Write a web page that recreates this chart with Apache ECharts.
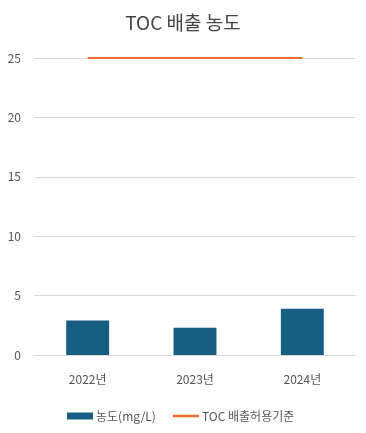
<!DOCTYPE html>
<html><head><meta charset="utf-8">
<script src="https://cdn.jsdelivr.net/npm/echarts@6/dist/echarts.min.js"></script>
<style>html,body{margin:0;padding:0;background:#fff}#c{width:366px;height:433px}</style>
</head><body><div id="c"></div>
<script>
const categories = ['2022년', '2023년', '2024년'];
const concentration = [2.9, 2.3, 3.9];
const limitValues = [25, 25, 25];
const yTicks = [0, 5, 10, 15, 20, 25];

const font = "'Noto Sans CJK KR', 'Noto Sans', sans-serif";
const chart = echarts.init(document.getElementById('c'), null, {renderer: 'canvas'});
chart.setOption({
  animation: false,
  textStyle: {fontFamily: font},
  title: {
    text: 'TOC 배출 농도', left: 'center', top: 8,
    textStyle: {fontFamily: font, fontSize: 19, fontWeight: 'normal', color: '#444'}
  },
  legend: {
    bottom: 11, left: 67, itemWidth: 26, itemHeight: 7, itemGap: 17, padding: 0,
    textStyle: {fontFamily: font, fontSize: 12, color: '#555', padding: [0, 0, 0, -2]},
    data: [
      {name: '농도(mg/L)', icon: 'rect'},
      {name: 'TOC 배출허용기준', icon: 'path://M0,0L0.01,0Z M0,2.3L26,2.3L26,4.7L0,4.7Z M0,7L0.01,7Z'}
    ]
  },
  grid: {left: 34, right: 10, top: 58, bottom: 78},
  xAxis: {
    type: 'category', data: categories,
    axisLine: {show: false}, axisTick: {show: false},
    axisLabel: {color: '#555', fontSize: 12, margin: 18, fontFamily: font}
  },
  yAxis: {
    type: 'value', min: yTicks[0], max: yTicks[yTicks.length - 1], interval: 5,
    axisLine: {show: false}, axisTick: {show: false},
    axisLabel: {color: '#555', fontSize: 12, margin: 13, fontFamily: font},
    splitLine: {lineStyle: {color: '#d9d9d9'}}
  },
  series: [
    {name: '농도(mg/L)', type: 'bar', data: concentration, barWidth: '40%',
     itemStyle: {color: '#165F82'}},
    {name: 'TOC 배출허용기준', type: 'line', data: limitValues, symbol: 'none',
     lineStyle: {color: '#E8702A', width: 2}, itemStyle: {color: '#E8702A'}}
  ]
});
</script></body></html>
